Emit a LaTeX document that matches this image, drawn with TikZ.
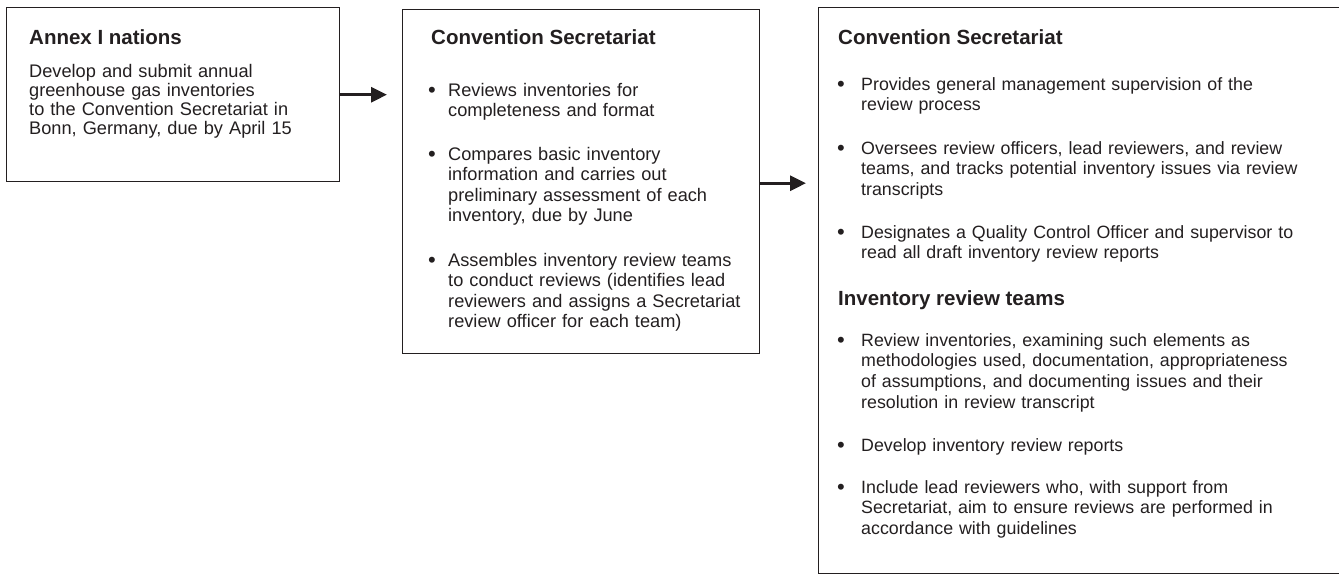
\documentclass[tikz,border=0pt]{standalone}
\usepackage{fontspec}
\setmainfont{Liberation Sans}
\usetikzlibrary{arrows.meta}
\definecolor{ink}{RGB}{35,31,32}
\tikzset{
  boxframe/.style={draw=ink, line width=1.4pt, rectangle, anchor=north west, inner sep=0pt},
  heading/.style={anchor=base west, inner sep=0pt, text=ink, font=\fontsize{20.5}{24}\selectfont\bfseries},
  bodyA/.style={anchor=base west, inner sep=0pt, text=ink, align=left, text width=320pt, font=\fontsize{18.2}{19.2}\selectfont},
  bodyB/.style={anchor=base west, inner sep=0pt, text=ink, align=left, text width=320pt, font=\fontsize{18.2}{20.5}\selectfont},
  bodyC/.style={anchor=base west, inner sep=0pt, text=ink, align=left, text width=470pt, font=\fontsize{17.8}{20.9}\selectfont},
  bul/.style={anchor=base, inner sep=0pt, yshift=-1.5pt, text=ink, font=\fontsize{22}{24}\selectfont},
  flow/.style={draw=ink, line width=3pt, -{Triangle[length=16pt,width=15pt]}}
}
\begin{document}
\begin{tikzpicture}[x=1pt,y=-1pt]
\useasboundingbox (0,0) rectangle (1339,574);
\clip (0,0) rectangle (1339,574);
% boxes
\node[boxframe, minimum width=333pt, minimum height=174pt] (b1) at (6,7) {};
\node[boxframe, minimum width=357pt, minimum height=344pt] (b2) at (402,8.5) {};
\node[boxframe, minimum width=527pt, minimum height=566pt] (b3) at (818,7) {};
% box 1
\node[heading] (t1) at (29,44) {Annex I nations};
\node[bodyA] (p1) at (29,77) {Develop and submit annual\\greenhouse gas inventories\\to the Convention Secretariat in\\Bonn, Germany, due by April 15};
% box 2
\node[heading] (t2) at (431,44) {Convention Secretariat};
\node[bul] (d21) at (432,96) {•};
\node[bodyB] (p21) at (448,96) {Reviews inventories for\\completeness and format};
\node[bul] (d22) at (432,160) {•};
\node[bodyB] (p22) at (448,160) {Compares basic inventory\\information and carries out\\preliminary assessment of each\\inventory, due by June};
\node[bul] (d23) at (432,266) {•};
\node[bodyB] (p23) at (448,266) {Assembles inventory review teams\\to conduct reviews (identifies lead\\reviewers and assigns a Secretariat\\review officer for each team)};
% box 3
\node[heading] (t3) at (838,44) {Convention Secretariat};
\node[bul] (d31) at (841,90) {•};
\node[bodyC] (p31) at (861,90) {Provides general management supervision of the\\review process};
\node[bul] (d32) at (841,154) {•};
\node[bodyC] (p32) at (861,154) {Oversees review officers, lead reviewers, and review\\teams, and tracks potential inventory issues via review\\transcripts};
\node[bul] (d33) at (841,238) {•};
\node[bodyC] (p33) at (861,238) {Designates a Quality Control Officer and supervisor to\\read all draft inventory review reports};
\node[heading] (t4) at (838,305) {Inventory review teams};
\node[bul] (d34) at (841,346) {•};
\node[bodyC] (p34) at (861,346) {Review inventories, examining such elements as\\methodologies used, documentation, appropriateness\\of assumptions, and documenting issues and their\\resolution in review transcript};
\node[bul] (d35) at (841,451) {•};
\node[bodyC] (p35) at (861,451) {Develop inventory review reports};
\node[bul] (d36) at (841,493) {•};
\node[bodyC] (p36) at (861,493) {Include lead reviewers who, with support from\\Secretariat, aim to ensure reviews are performed in\\accordance with guidelines};
% arrows
\draw[flow, shorten >=15pt] (b1.east) -- (b1.east -| b2.west);
\draw[flow, shorten >=12pt] ([yshift=-2pt]b2.east) -- ([yshift=-2pt]b2.east -| b3.west);
\end{tikzpicture}
\end{document}
